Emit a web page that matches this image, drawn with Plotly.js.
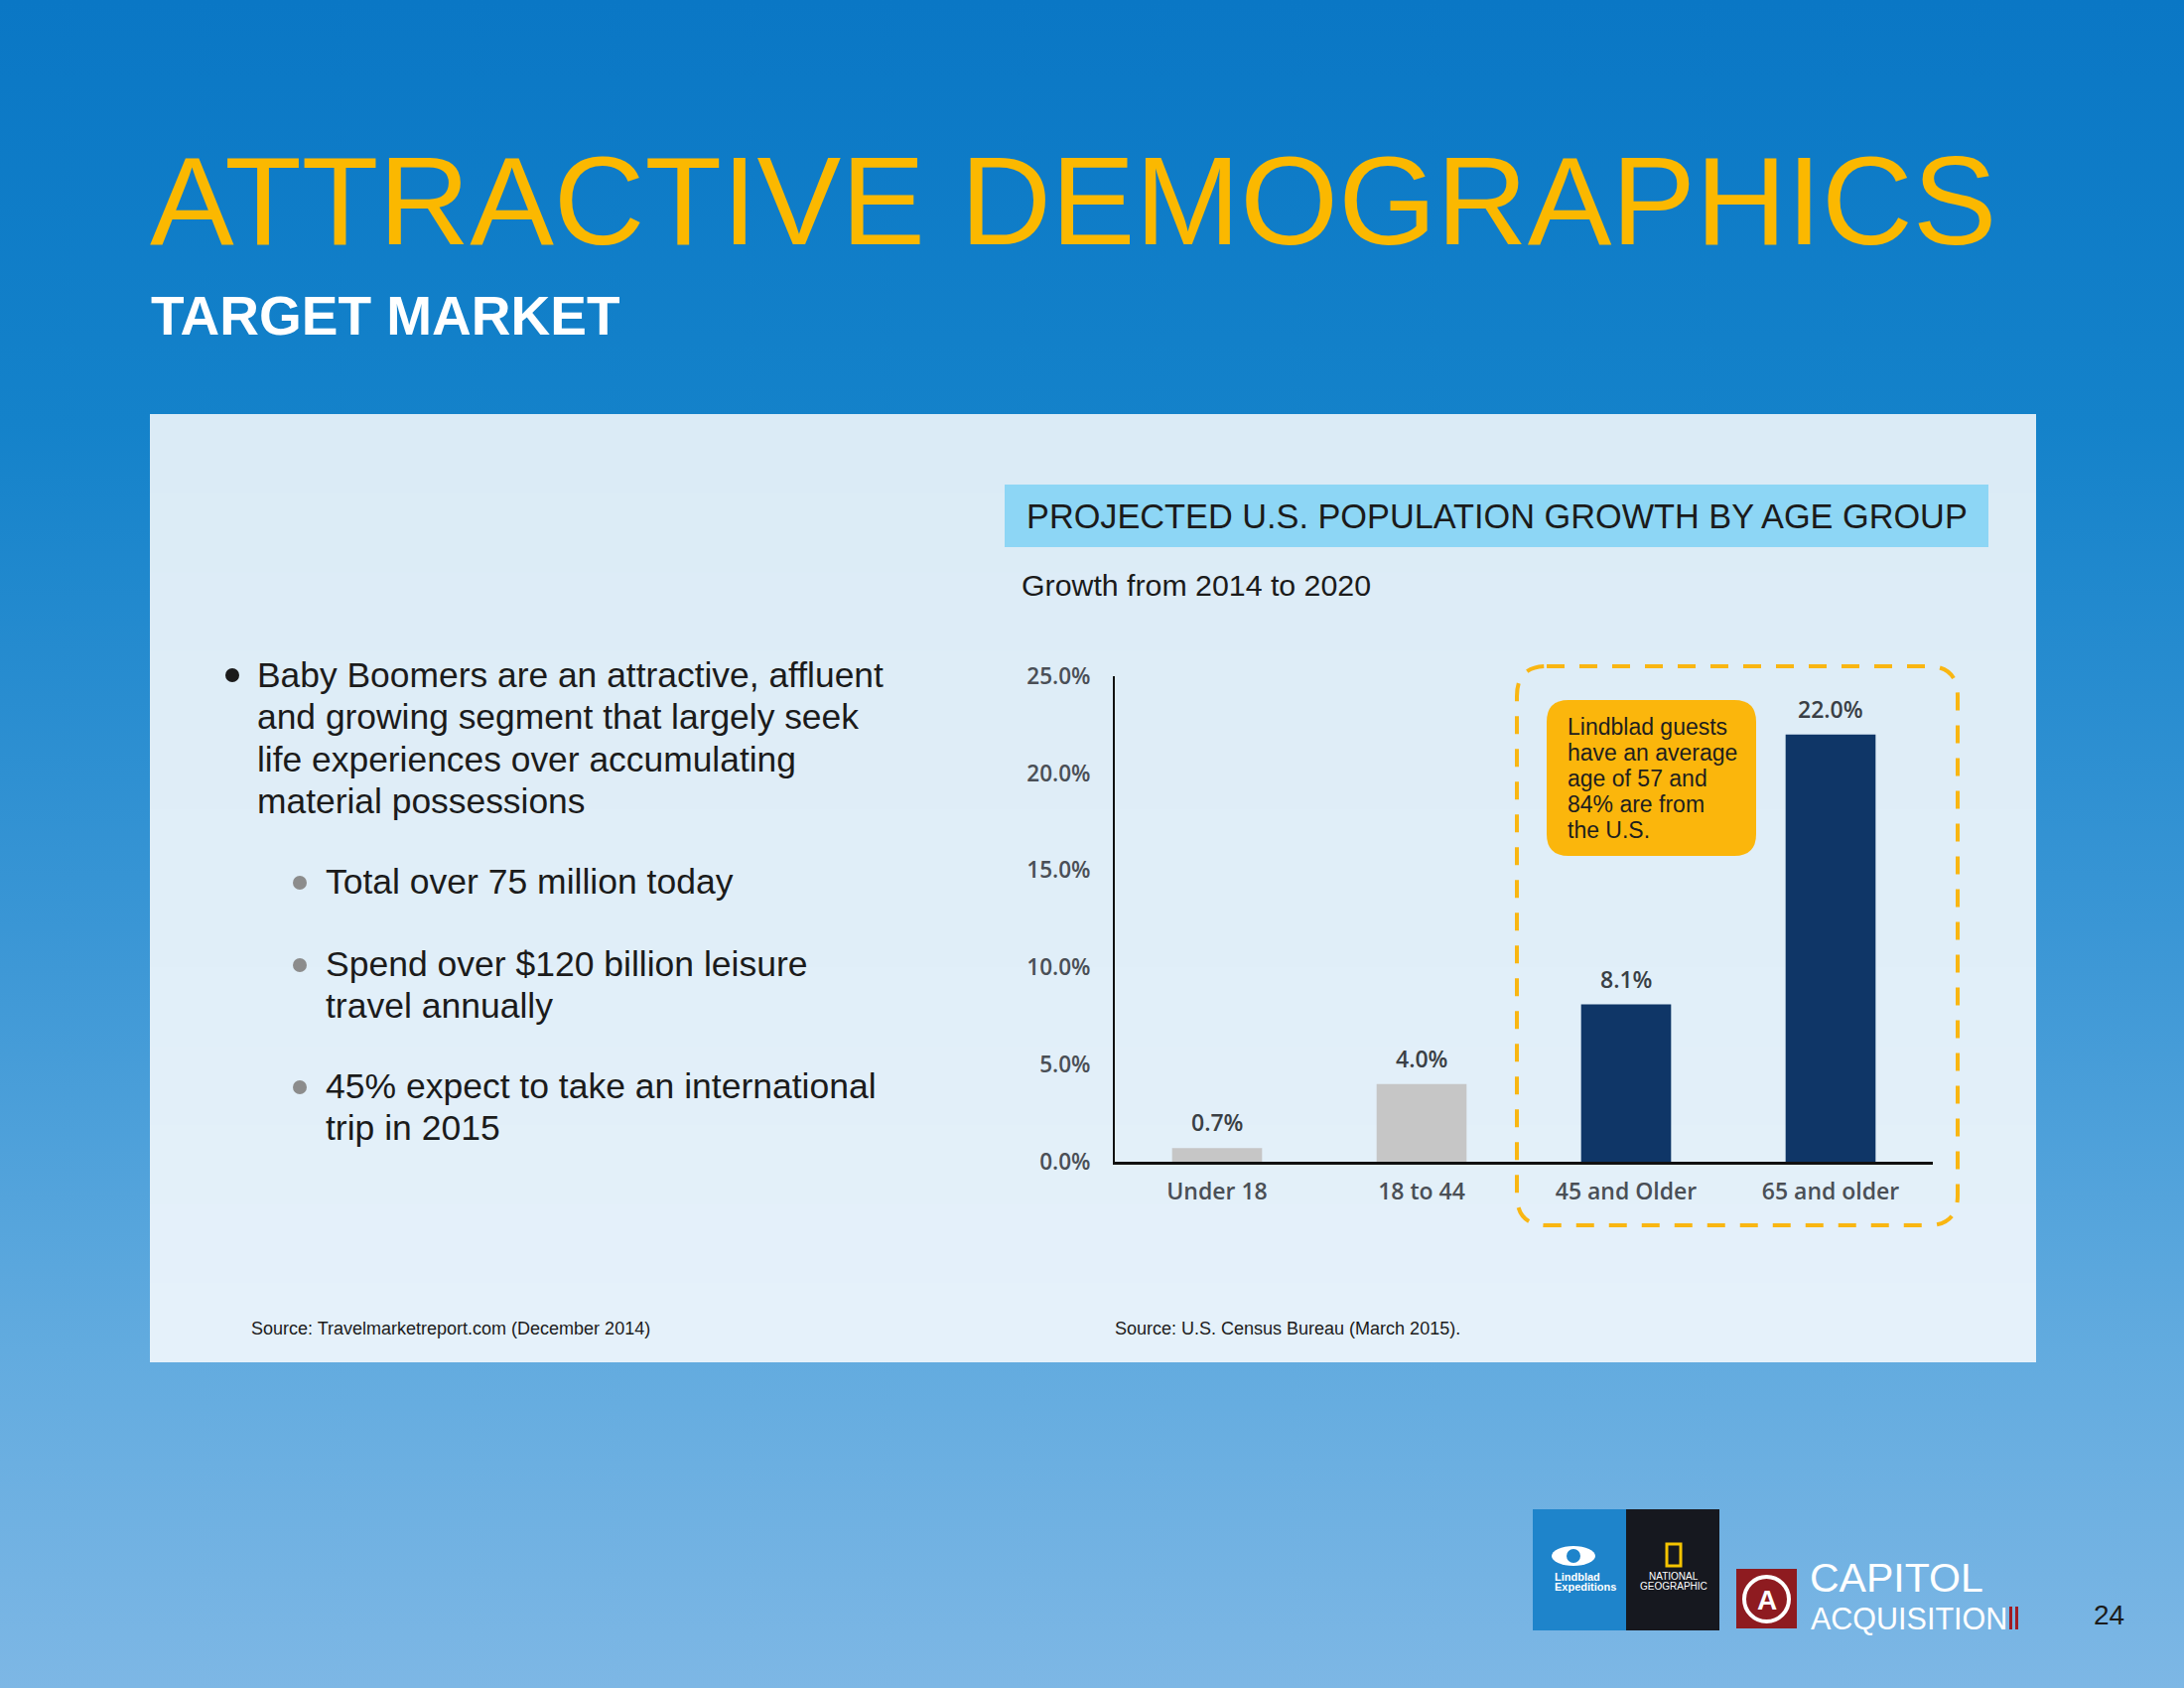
<!DOCTYPE html>
<html><head><meta charset="utf-8">
<script src="https://cdn.plot.ly/plotly-3.0.1.min.js"></script>
<style>
html,body{margin:0;padding:0;}
body{width:2200px;height:1700px;background:linear-gradient(to bottom,#0A77C5 0%,#1482CA 25%,#3A96D5 55%,#62ABDF 80%,#7DB7E5 100%);}
#chart{width:2200px;height:1700px;}
</style></head><body><div id="chart"></div>
<script>
// ---------- data ----------
const categories = ['Under 18', '18 to 44', '45 and Older', '65 and older'];
const growth = [0.7, 4.0, 8.1, 22.0];
const highlighted = ['45 and Older', '65 and older'];
const yTicks = [0, 5, 10, 15, 20, 25];

const pageTitle = 'ATTRACTIVE DEMOGRAPHICS';
const pageSubtitle = 'TARGET MARKET';
const chartHeader = 'PROJECTED U.S. POPULATION GROWTH BY AGE GROUP';
const chartSubheader = 'Growth from 2014 to 2020';
const calloutLines = ['Lindblad guests', 'have an average', 'age of 57 and', '84% are from', 'the U.S.'];
const mainBulletLines = ['Baby Boomers are an attractive, affluent', 'and growing segment that largely seek', 'life experiences over accumulating', 'material possessions'];
const subBullets = [['Total over 75 million today'], ['Spend over $120 billion leisure', 'travel annually'], ['45% expect to take an international', 'trip in 2015']];
const sourceLeft = 'Source: Travelmarketreport.com (December 2014)';
const sourceRight = 'Source: U.S. Census Bureau (March 2015).';
const pageNumber = '24';
const logoLindblad = ['Lindblad', 'Expeditions'];
const logoNatGeo = ['NATIONAL', 'GEOGRAPHIC'];
const logoCapitol = ['CAPITOL', 'ACQUISITION'];

// ---------- layout helpers (pixel -> paper) ----------
const W = 2200, H = 1700;
const P = x => x / W;
const Q = y => 1 - y / H;
function roundRectPath(x0, y0, x1, y1, r) {
  const pts = (x, y) => P(x).toFixed(5) + ',' + Q(y).toFixed(5);
  return 'M' + pts(x0 + r, y0) + ' L' + pts(x1 - r, y0) + ' Q' + pts(x1, y0) + ' ' + pts(x1, y0 + r) +
    ' L' + pts(x1, y1 - r) + ' Q' + pts(x1, y1) + ' ' + pts(x1 - r, y1) +
    ' L' + pts(x0 + r, y1) + ' Q' + pts(x0, y1) + ' ' + pts(x0, y1 - r) +
    ' L' + pts(x0, y0 + r) + ' Q' + pts(x0, y0) + ' ' + pts(x0 + r, y0) + ' Z';
}
const SANS = '"Liberation Sans", Arial, Helvetica, sans-serif';
const CHARTFONT = '"Open Sans", "DejaVu Sans", sans-serif';
const NAVY = '#0F3667', GRAY = '#C6C6C6';
const LABEL = '#3a3f45', AXISLBL = '#4a4f56';

function txt(x, y, text, size, color, opts) {
  return Object.assign({
    xref: 'paper', yref: 'paper', x: P(x), y: Q(y), text: text, showarrow: false,
    xanchor: 'left', yanchor: 'middle',
    font: { family: SANS, size: size, color: color }
  }, opts || {});
}

const annotations = [];
annotations.push(txt(149, 202, pageTitle, 127, '#FBB800'));
annotations.push(txt(150, 318, pageSubtitle, 55, '#FFFFFF', { font: { family: SANS, size: 55, color: '#FFFFFF', weight: 700 } }));
annotations.push(txt(1032, 520, chartHeader, 34.3, '#1b1b1b'));
annotations.push(txt(1027, 589, chartSubheader, 30.3, '#1b1b1b'));

// bullets
const mainY = [680, 722, 765, 807];
mainBulletLines.forEach((l, i) => annotations.push(txt(257, mainY[i], l, 35.4, '#1b1b1b')));
const subY = [[888], [971, 1013], [1094, 1136]];
subBullets.forEach((lines, i) => lines.forEach((l, j) => annotations.push(txt(326, subY[i][j], l, 35.5, '#1b1b1b'))));

// callout
calloutLines.forEach((l, i) => annotations.push(txt(1577, 732 + i * 26, l, 23, '#1e1e1e')));

// sources
annotations.push(txt(251, 1338, sourceLeft, 18, '#1b1b1b'));
annotations.push(txt(1121, 1338, sourceRight, 18, '#1b1b1b'));

// logos text
annotations.push(txt(1564, 1588, logoLindblad[0], 11, '#FFFFFF', { font: { family: SANS, size: 11, color: '#FFFFFF', weight: 700 } }));
annotations.push(txt(1564, 1598, logoLindblad[1], 11, '#FFFFFF', { font: { family: SANS, size: 11, color: '#FFFFFF', weight: 700 } }));
annotations.push(txt(1686, 1587, logoNatGeo[0], 10, '#FFFFFF', { xanchor: 'center' }));
annotations.push(txt(1686, 1597, logoNatGeo[1], 10, '#FFFFFF', { xanchor: 'center' }));
annotations.push(txt(1821, 1589, logoCapitol[0], 41, '#FFFFFF'));
annotations.push(txt(1822, 1630, logoCapitol[1], 30.5, '#FFFFFF'));
annotations.push(txt(1780, 1611, 'A', 28, '#FFFFFF', { xanchor: 'center', font: { family: SANS, size: 28, color: '#FFFFFF', weight: 700 } }));
annotations.push(txt(2107, 1626, pageNumber, 28, '#1b1b1b'));

// data labels (through the data axes)
categories.forEach((c, i) => annotations.push({
  xref: 'x', yref: 'y', x: c, y: growth[i], text: growth[i].toFixed(1) + '%', showarrow: false,
  yanchor: 'middle', xanchor: 'center', yshift: 26,
  font: { family: CHARTFONT, size: 23, color: LABEL, weight: 600 }
}));

const shapes = [];
// panel with a subtle vertical gradient
const panelTop = [219, 235, 246], panelBot = [229, 241, 250];
const bands = 12, pTop = 417, pBot = 1372;
for (let b = 0; b < bands; b++) {
  const t = b / (bands - 1);
  const c = panelTop.map((v, k) => Math.round(v + (panelBot[k] - v) * t));
  const y0 = pTop + (pBot - pTop) * b / bands, y1 = pTop + (pBot - pTop) * (b + 1) / bands;
  shapes.push({ type: 'rect', xref: 'paper', yref: 'paper', x0: P(151), x1: P(2051), y0: Q(y0), y1: Q(y1 + (b < bands - 1 ? 1 : 0)),
    fillcolor: 'rgb(' + c.join(',') + ')', line: { width: 0 }, layer: 'below' });
}
shapes.push(
  // chart header bar
  { type: 'rect', xref: 'paper', yref: 'paper', x0: P(1012), x1: P(2003), y0: Q(488), y1: Q(551), fillcolor: '#8DD6F5', line: { width: 0 }, layer: 'below' },
  // callout
  { type: 'path', xref: 'paper', yref: 'paper', path: roundRectPath(1558, 705, 1769, 862, 22), fillcolor: '#FBB60C', line: { width: 0 }, layer: 'below' },
  // dashed highlight
  { type: 'path', xref: 'paper', yref: 'paper', path: roundRectPath(1528, 671, 1972, 1234, 30), fillcolor: 'rgba(0,0,0,0)', line: { color: '#F9B612', width: 4, dash: '18px,15px' }, layer: 'above' },
  // bullet dot
  { type: 'circle', xref: 'paper', yref: 'paper', x0: P(227), x1: P(241), y0: Q(673), y1: Q(687), fillcolor: '#1b1b1b', line: { width: 0 } },
  // logos
  { type: 'rect', xref: 'paper', yref: 'paper', x0: P(1544), x1: P(1638), y0: Q(1520), y1: Q(1642), fillcolor: '#1E84CB', line: { width: 0 } },
  { type: 'rect', xref: 'paper', yref: 'paper', x0: P(1638), x1: P(1732), y0: Q(1520), y1: Q(1642), fillcolor: '#16181F', line: { width: 0 } },
  { type: 'rect', xref: 'paper', yref: 'paper', x0: P(1679), x1: P(1693), y0: Q(1555), y1: Q(1577), fillcolor: 'rgba(0,0,0,0)', line: { color: '#F5C400', width: 3 } },
  { type: 'circle', xref: 'paper', yref: 'paper', x0: P(1563), x1: P(1607), y0: Q(1557), y1: Q(1577), fillcolor: '#FFFFFF', line: { width: 0 } },
  { type: 'circle', xref: 'paper', yref: 'paper', x0: P(1578), x1: P(1592), y0: Q(1560), y1: Q(1574), fillcolor: '#1E84CB', line: { width: 0 } },
  { type: 'rect', xref: 'paper', yref: 'paper', x0: P(1749), x1: P(1810), y0: Q(1580), y1: Q(1640), fillcolor: '#8E1B20', line: { width: 0 } },
  { type: 'circle', xref: 'paper', yref: 'paper', x0: P(1757), x1: P(1802), y0: Q(1588), y1: Q(1633), fillcolor: 'rgba(0,0,0,0)', line: { color: '#FFFFFF', width: 4 } },
  { type: 'rect', xref: 'paper', yref: 'paper', x0: P(2024), x1: P(2027), y0: Q(1618), y1: Q(1641), fillcolor: '#A01C24', line: { width: 0 } },
  { type: 'rect', xref: 'paper', yref: 'paper', x0: P(2030), x1: P(2033), y0: Q(1618), y1: Q(1641), fillcolor: '#A01C24', line: { width: 0 } }
);
[889, 972, 1095].forEach(cy => shapes.push({ type: 'circle', xref: 'paper', yref: 'paper', x0: P(295), x1: P(309), y0: Q(cy - 7), y1: Q(cy + 7), fillcolor: '#8C8C8C', line: { width: 0 } }));

const trace = {
  type: 'bar', x: categories, y: growth,
  marker: { color: categories.map(c => highlighted.includes(c) ? NAVY : GRAY), line: { width: 0 } },
  hoverinfo: 'skip', cliponaxis: false
};

const layout = {
  width: W, height: H, margin: { l: 0, r: 0, t: 0, b: 0 },
  paper_bgcolor: 'rgba(0,0,0,0)', plot_bgcolor: 'rgba(0,0,0,0)',
  showlegend: false, bargap: 0.56,
  xaxis: {
    domain: [P(1123), P(1947)], type: 'category', range: [-0.5, 3.5],
    showline: true, linecolor: '#111111', linewidth: 2.5, ticks: '', showgrid: false, zeroline: false,
    tickfont: { family: CHARTFONT, size: 23, color: AXISLBL, weight: 600 }, ticklabelstandoff: 8, fixedrange: true
  },
  yaxis: {
    domain: [Q(1170), Q(681)], range: [0, 25],
    showline: true, linecolor: '#111111', linewidth: 2, ticks: '', showgrid: false, zeroline: false,
    tickvals: yTicks, ticktext: yTicks.map(v => v.toFixed(1) + '%'),
    tickfont: { family: CHARTFONT, size: 22.5, color: AXISLBL, weight: 600 }, ticklabelstandoff: 18, fixedrange: true
  },
  shapes: shapes, annotations: annotations
};

Plotly.newPlot('chart', [trace], layout, { staticPlot: true, displayModeBar: false });
</script></body></html>
